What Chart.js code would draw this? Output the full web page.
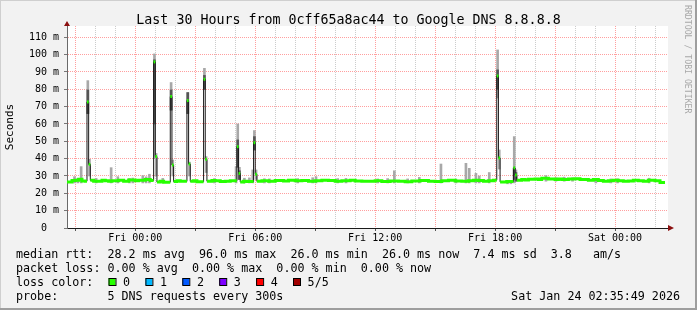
<!DOCTYPE html>
<html>
<head>
<meta charset="utf-8">
<script src="https://cdn.jsdelivr.net/npm/chart.js@4.4.1/dist/chart.umd.min.js"></script>
<style>
  html, body { margin: 0; padding: 0; background: #f2f2f2; }
  canvas { display: block; }
</style>
</head>
<body>
<canvas id="rttChart" width="697" height="310"></canvas>
<script>
// Time is in minutes relative to Fri 00:00, each median step lasts until the next entry
const medianMinutes = [
  -205, -190, -180, -170, -160, -150, -145, -140,
  -135, -125, -110, -100, -90, -80, -70, -50, -35, -20, 0, 10, 30, 45,
  55, 60, 65, 75, 85, 105, 110, 115, 125, 135, 155, 160, 165, 175, 185,
  205, 210, 215, 230, 240, 255, 270, 285, 305, 310, 315, 325, 335, 355, 360, 365,
  380, 400, 420, 445, 460, 480, 500, 520, 540, 560, 580, 600, 620, 645, 660, 680,
  700, 720, 740, 765, 790, 810, 830, 855, 880, 900, 920, 940, 960, 980,
  1000, 1015, 1030, 1045, 1060, 1075, 1085, 1090, 1095, 1115, 1135, 1140,
  1145, 1160, 1170, 1180, 1200, 1210, 1220, 1240, 1260, 1270, 1280, 1300, 1320, 1335, 1345,
  1360, 1375, 1390, 1405, 1420, 1435, 1450, 1465, 1480, 1495, 1510, 1525, 1540, 1560, 1575];
const medianValues = [
  26.6, 27.4, 27.6, 28.1, 27.1, 27.0, 72.7, 36.7,
  27.5, 26.9, 27.0, 27.5, 27.3, 26.9, 27.2, 27.5, 27.0, 27.7, 27.3, 27.5, 27.9, 27.4,
  95.8, 41.2, 26.5, 26.9, 26.4, 75.8, 36.3, 26.8, 27.2, 26.9, 73.5, 36.9, 26.9, 27.3, 26.7,
  85.8, 39.6, 27.0, 27.4, 27.2, 26.8, 26.9, 27.3, 46.9, 31.5, 26.6, 27.0, 26.8, 49.2, 31.0, 26.9,
  27.3, 27.0, 27.4, 27.1, 27.6, 27.2, 27.4, 27.0, 27.2, 27.5, 27.4, 27.0, 27.3, 27.6, 27.1, 26.9,
  27.0, 27.3, 26.8, 27.1, 27.0, 26.7, 27.1, 27.4, 27.0, 26.8, 27.2, 27.5, 27.1, 26.9,
  27.2, 27.6, 27.4, 27.0, 27.3, 27.6, 87.7, 40.4, 26.6, 26.8, 34.7, 30.5,
  27.6, 28.0, 27.7, 28.1, 28.3, 28.0, 28.7, 28.3, 27.9, 28.3, 28.0, 28.2, 28.4, 27.9, 28.0,
  27.6, 27.9, 27.4, 27.0, 27.2, 27.6, 27.3, 27.0, 27.1, 27.5, 27.3, 27.0, 27.5, 27.2, 26.2];
const lastMinute = 1590;

// smoke: spread of the 5 pings per step (outer band)
const smokeMinutes = [
  -185, -175, -165, -145, -140, -120, -75, -55, -20, -10, 20, 30, 40, 55, 60, 80,
  105, 110, 155, 160, 205, 210, 235, 300, 305, 310, 325, 340, 350, 355, 360, 385, 400,
  485, 530, 540, 605, 630, 725, 755, 775, 815, 850, 915, 960, 990, 1000, 1020, 1030, 1060,
  1085, 1090, 1115, 1125, 1135, 1140, 1230, 1260, 1285, 1310, 1380, 1425, 1445, 1540];
const smokeLow = [
  26, 26, 26, 66, 30, 26, 26, 26, 26, 26, 26, 26, 26, 40, 30, 26,
  68, 30, 66, 30, 80, 32, 26, 26, 40, 28, 26, 26, 26, 45, 28, 26, 26,
  26, 26, 26, 26, 26, 26, 26, 26, 26, 26, 26, 26, 26, 26, 26, 26, 26,
  75, 34, 25.5, 25.5, 26, 27, 27, 27, 27, 27, 26, 26, 26, 26];
const smokeHigh = [
  29.6, 28.6, 35.4, 85.0, 39.6, 28.6, 34.8, 29.6, 28.6, 28.8, 30.2, 29.5, 31.0, 100.4, 43.0, 28.6,
  83.9, 39.2, 78.1, 38.0, 92.1, 41.2, 28.5, 35.4, 60.0, 35.0, 28.7, 28.9, 33.5, 56.2, 33.5, 28.4, 28.3,
  28.5, 29.0, 29.6, 28.5, 28.6, 28.3, 28.5, 33.0, 28.3, 29.2, 36.9, 28.2, 37.3, 34.4, 31.5, 30.0, 32.0,
  102.7, 45.0, 27.5, 27.5, 52.7, 33.5, 30.2, 29.0, 29.3, 29.0, 28.5, 28.3, 28.4, 28.7];

// inner band, closer to the median
const coreMinutes = [-145, 55, 105, 155, 205, 305, 310, 355, 1085, 1135, 1140];
const coreLow = [66, 60, 68, 66, 80, 35, 28, 45, 80, 28, 27];
const coreHigh = [79.6, 97.0, 79.6, 78.1, 88.0, 50.8, 33.0, 52.7, 91.2, 34.4, 32.0];

// Axis labels
const xTickMinutes = [0, 360, 720, 1080, 1440];
const xTickLabels = ['Fri 00:00', 'Fri 06:00', 'Fri 12:00', 'Fri 18:00', 'Sat 00:00'];

// Legend texts
const chartTitle = 'Last 30 Hours from 0cff65a8ac44 to Google DNS 8.8.8.8';
const legendRtt = 'median rtt:  28.2 ms avg  96.0 ms max  26.0 ms min  26.0 ms now  7.4 ms sd  3.8   am/s';
const legendLoss = 'packet loss: 0.00 % avg  0.00 % max  0.00 % min  0.00 % now';
const legendProbe = 'probe:       5 DNS requests every 300s';
const stampText = 'Sat Jan 24 02:35:49 2026';
const lossLabels = ['0', '1', '2', '3', '4', '5/5'];
const lossColors = ['#26ff00', '#00b8ff', '#0059ff', '#7e00ff', '#ff0000', '#a10000'];

const MONO = '"DejaVu Sans Mono", monospace';
const GREEN = lossColors[0];

// stepped black line for the median
const stepPoints = medianMinutes.map((m, i) => ({ x: m, y: medianValues[i] }));
stepPoints.push({ x: lastMinute, y: medianValues[medianValues.length - 1] });

// green horizontal pieces: each step drawn from its start to the next start
const greenPoints = [];
medianMinutes.forEach((m, i) => {
  const end = i + 1 < medianMinutes.length ? medianMinutes[i + 1] : lastMinute;
  greenPoints.push({ x: m, y: medianValues[i] });
  greenPoints.push({ x: end, y: medianValues[i] });
});

const smokeBars = smokeMinutes.map((m, i) => ({ x: m + 2.5, y: [smokeLow[i], smokeHigh[i]] }));
const coreBars = coreMinutes.map((m, i) => ({ x: m + 2.5, y: [coreLow[i], coreHigh[i]] }));

// Background, frame, arrows and legend
const rrdPlugin = {
  id: 'rrdFrame',
  beforeDraw(chart) {
    const { ctx, chartArea: a } = chart;
    ctx.save();
    ctx.fillStyle = '#f2f2f2';
    ctx.fillRect(0, 0, chart.width, chart.height);
    ctx.fillStyle = '#ffffff';
    ctx.fillRect(a.left, a.top, a.right - a.left, a.bottom - a.top);
    ctx.fillStyle = '#cfcfcf';
    ctx.fillRect(0, 0, chart.width, 1);
    ctx.fillRect(0, 0, 1, chart.height);
    ctx.fillStyle = '#9e9e9e';
    ctx.fillRect(0, chart.height - 2, chart.width, 2);
    ctx.fillRect(chart.width - 2, 0, 2, chart.height);
    ctx.restore();
  },
  afterDraw(chart) {
    const { ctx, chartArea: a } = chart;
    ctx.save();
    // arrows
    ctx.fillStyle = '#8b1010';
    ctx.beginPath();
    ctx.moveTo(a.right, a.bottom - 3);
    ctx.lineTo(a.right + 6, a.bottom);
    ctx.lineTo(a.right, a.bottom + 3);
    ctx.fill();
    ctx.beginPath();
    ctx.moveTo(a.left - 3, a.top);
    ctx.lineTo(a.left, a.top - 5);
    ctx.lineTo(a.left + 3, a.top);
    ctx.fill();

    // title
    ctx.fillStyle = '#000';
    ctx.font = '13.3px ' + MONO;
    ctx.textAlign = 'center';
    ctx.textBaseline = 'alphabetic';
    ctx.fillText(chartTitle, chart.width / 2, 24);

    // legend
    ctx.font = '11.7px ' + MONO;
    ctx.textAlign = 'left';
    ctx.fillText(legendRtt, 16, 258);
    ctx.fillText(legendLoss, 16, 272);
    ctx.fillText('loss color:', 16, 285.5);
    lossLabels.forEach((lbl, k) => {
      const bx = 108.5 + k * 36.9;
      ctx.fillStyle = lossColors[k];
      ctx.fillRect(bx, 278, 7, 7);
      ctx.strokeStyle = '#000';
      ctx.lineWidth = 1;
      ctx.strokeRect(bx + 0.5, 278.5, 7, 7);
      ctx.fillStyle = '#000';
      ctx.fillText(lbl, bx + 14.6, 285.5);
    });
    ctx.fillText(legendProbe, 16, 299.5);
    ctx.textAlign = 'right';
    ctx.fillText(stampText, 680, 299.5);

    // watermark
    ctx.translate(685, 5);
    ctx.rotate(Math.PI / 2);
    ctx.font = '8.2px ' + MONO;
    ctx.fillStyle = '#a8a8a8';
    ctx.textAlign = 'left';
    ctx.fillText('RRDTOOL / TOBI OETIKER', 0, 0);
    ctx.restore();
  }
};

const RED_GRID = 'rgba(255, 80, 80, 0.55)';
const GREY_GRID = 'rgba(170, 170, 170, 0.6)';

const ctx = document.getElementById('rttChart').getContext('2d');
const chart = new Chart(ctx, {
  type: 'line',
  data: {
    datasets: [
      {
        label: 'median',
        data: greenPoints,
        borderColor: GREEN,
        borderWidth: 3,
        borderCapStyle: 'butt',
        pointRadius: 0,
        tension: 0,
        segment: {
          // big jumps stay black, only the level pieces are green
          borderColor: (c) => (c.p0.parsed.x === c.p1.parsed.x &&
            Math.abs(c.p0.parsed.y - c.p1.parsed.y) > 2) ? 'rgba(0,0,0,0)' : GREEN
        }
      },
      {
        label: 'median step',
        data: stepPoints,
        borderColor: '#1a1a1a',
        borderWidth: 1,
        stepped: 'before',
        pointRadius: 0
      },
      {
        type: 'bar',
        label: 'smoke core',
        data: coreBars,
        backgroundColor: '#555555',
        barThickness: 2,
        grouped: false
      },
      {
        type: 'bar',
        label: 'smoke',
        data: smokeBars,
        backgroundColor: '#a8a8a8',
        barThickness: 2,
        grouped: false
      }
    ]
  },
  options: {
    responsive: false,
    animation: false,
    devicePixelRatio: 1,
    layout: { padding: { top: 26, right: 29, bottom: 62, left: 0 } },
    plugins: {
      legend: { display: false },
      tooltip: { enabled: false }
    },
    scales: {
      x: {
        type: 'linear',
        min: -205,
        max: 1599,
        offset: false,
        afterFit: (scale) => { scale.height = 20; },
        grid: {
          offset: false,
          color: (c) => (c.tick && c.tick.value % 180 === 0) ? RED_GRID : GREY_GRID,
          lineWidth: 1,
          tickLength: 3,
          tickColor: (c) => (c.tick && c.tick.value % 180 === 0) ? '#555' : 'rgba(0,0,0,0)'
        },
        border: { display: true, color: '#1a1a1a', width: 1, dash: [1, 1] },
        ticks: {
          stepSize: 60,
          includeBounds: false,
          autoSkip: false,
          maxRotation: 0,
          padding: 1,
          color: '#000',
          font: { family: MONO, size: 10 },
          callback: (value) => {
            const k = xTickMinutes.indexOf(value);
            return k >= 0 ? xTickLabels[k] : '';
          }
        }
      },
      y: {
        min: 0,
        max: 116.5,
        afterFit: (scale) => { scale.width = 67; },
        grid: {
          color: (c) => (c.tick && c.tick.value % 10 === 0) ? RED_GRID : GREY_GRID,
          lineWidth: 1,
          tickLength: 3,
          tickColor: (c) => (c.tick && c.tick.value % 10 === 0) ? '#777' : 'rgba(0,0,0,0)'
        },
        border: { display: true, color: '#6a6a6a', width: 1, dash: [1, 1] },
        title: {
          display: true,
          text: 'Seconds',
          color: '#000',
          font: { family: MONO, size: 11 },
          padding: { top: 4, bottom: 0 }
        },
        ticks: {
          stepSize: 5,
          includeBounds: false,
          padding: 5,
          color: '#000',
          font: { family: MONO, size: 10 },
          callback: (value) => value % 10 === 0 ? (value === 0 ? '0  ' : value + ' m') : ''
        }
      }
    }
  },
  plugins: [rrdPlugin]
});
</script>
</body>
</html>
